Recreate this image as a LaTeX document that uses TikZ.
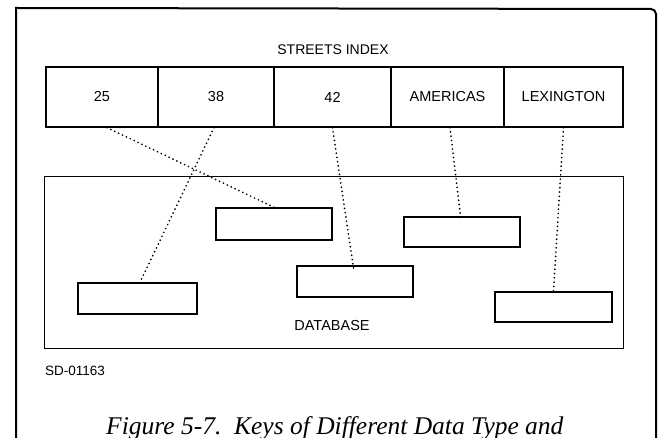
\documentclass[tikz,border=0pt]{standalone}
\usepackage{fontspec}
\setmainfont{Liberation Sans}
\newfontfamily\capfont{Liberation Serif}
\begin{document}
\begin{tikzpicture}[x=1pt,y=-1pt,
  frameline/.style={line width=2pt},
  cell/.style={draw, line width=1.3pt, minimum height=60pt, inner sep=0pt, font=\fontsize{14.5}{16}\selectfont},
  recbox/.style={draw, line width=1.4pt, minimum width=117pt, minimum height=31pt, inner sep=0pt},
  dbbox/.style={draw, line width=1pt, minimum width=579pt, minimum height=171pt, inner sep=0pt},
  lbl/.style={font=\fontsize{14.5}{16}\selectfont, inner sep=0pt},
  dots/.style={line width=1.9pt, line cap=round, dash pattern=on 0pt off 4.3pt}]
\useasboundingbox (0,0) rectangle (658,438);
\clip (0,0) rectangle (658,438);
% outer frame (open at the bottom)
\draw[frameline] (16,440) -- (16,8) [rounded corners=5pt] -- (656,9) -- (656,440);
% index
\node[lbl, font=\fontsize{14}{16}\selectfont] (title) at (333,50) {STREETS INDEX};
\node[cell, minimum width=112pt] (c25) at (102,97) {25};
\node[cell, minimum width=116pt] (c38) at (216,97) {38};
\node[cell, minimum width=117pt] (c42) at (332.5,97) {42};
\node[cell, minimum width=113pt] (cam) at (447.5,97) {AMERICAS};
\node[cell, minimum width=119pt] (clex) at (563.5,97) {LEXINGTON};
% database
\node[dbbox] (db) at (333.5,262.5) {};
\node[lbl] (dblabel) at (332,326) {DATABASE};
\node[recbox, minimum width=116pt, minimum height=32pt] (rA) at (274,224) {};
\node[recbox, minimum width=116pt, minimum height=30pt] (rB) at (462,232) {};
\node[recbox, minimum width=116pt, minimum height=31pt] (rC) at (355,281.5) {};
\node[recbox, minimum width=119pt, minimum height=31pt] (rD) at (137.5,298.5) {};
\node[recbox, minimum width=117pt, minimum height=30pt] (rE) at (553.5,307) {};
% connectors
\draw[dots] ([xshift=5pt]c25.south) -- (rA.north);
\draw[dots] ([xshift=-2pt]c38.south) -- ([xshift=2.5pt]rD.north);
\draw[dots] (c42.south) -- ([xshift=-1pt,yshift=-6pt]rC.north);
\draw[dots] ([xshift=2.5pt]cam.south) -- ([xshift=-1pt,yshift=-4pt]rB.north);
\draw[dots] (clex.south) -- (rE.north);
% labels
\node[lbl, font=\fontsize{13.5}{15}\selectfont, anchor=west] (sd) at (45,371) {SD-01163};
\node[anchor=base west, inner sep=0pt, font=\capfont\itshape\fontsize{25.5}{30}\selectfont] (cap) at (106,434) {Figure 5-7.\ \ Keys of Different Data Type and};
\end{tikzpicture}
\end{document}
